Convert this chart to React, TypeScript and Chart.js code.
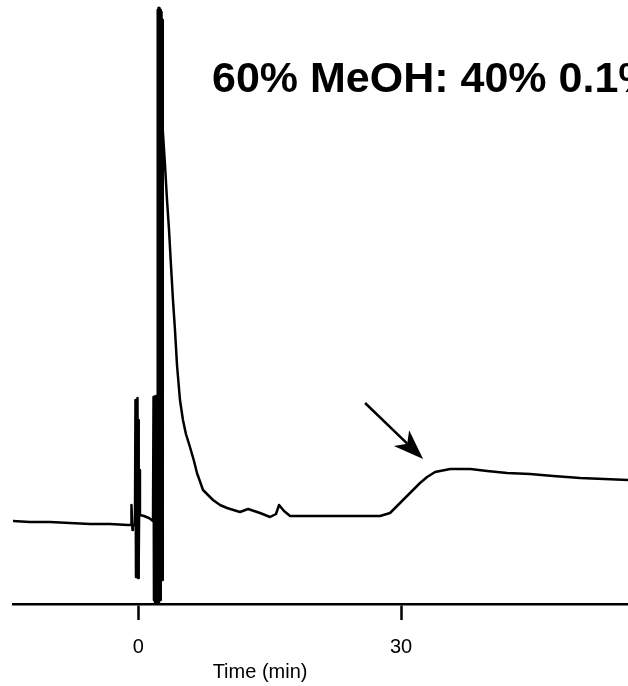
import React, { useEffect, useRef } from "react";
import { Chart, registerables } from "chart.js";

Chart.register(...registerables);

// Retention time (min) and detector signal (arbitrary units)
const timeMin = [
  -14.31, -12.37, -10.08, -7.8, -5.51, -3.23, -1.18, -0.83, -0.78, -0.66, -0.61, -0.38,
  -0.32, -0.26, -0.21, -0.15, -0.09, -0.03, 0.02, 0.08, 0.14, 0.19, 0.65, 1.22,
  1.68, 1.74, 1.79, 1.85, 1.91, 1.96, 2.02, 2.08, 2.14, 2.19, 2.25, 2.31, 2.36, 2.42,
  2.48, 2.54, 2.59, 2.65, 2.71, 2.77, 2.82,
  3.05, 3.28, 3.51, 3.73, 3.96, 4.19, 4.42, 4.76, 5.1, 5.44, 5.9, 6.36, 6.7, 7.39,
  8.53, 9.33, 10.13, 11.61, 12.53, 13.9, 15.04, 15.72, 16.07, 16.64, 17.33, 20.75, 24.17, 27.6,
  28.74, 29.88, 31.02, 32.16, 32.97, 33.88, 35.6, 37.91, 39.82, 42.1, 44.72, 47.36, 50.44,
  55.92,
];
const signal = [
  83, 82, 82, 81, 80, 80, 79, 79, 99, 74, 79, 79,
  204, 27, 199, 29, 206, 26, 184, 44, 134, 89, 88, 86,
  83, 207, 4, 207, 0, 208, 0, 204, 0, 594, 0, 596, 0, 596,
  4, 594, 14, 592, 24, 584, 474,
  439, 404, 374, 339, 304, 274, 239, 204, 184, 170, 157, 143, 131, 114,
  104, 99, 96, 92, 95, 91, 87, 90, 99, 93, 88, 88, 88, 88,
  91, 101, 111, 121, 127, 132, 135, 135, 133, 131, 130, 128, 126,
  124,
];
const xTickValues = [0, 30];
const xRange = [-14.3, 55.9];
const yRange = [0, 604];
const titleText = "60% MeOH: 40% 0.1% TFA";
const axisTitle = "Time (min)";
// arrow pointing at the broad peak: [time, signal] tail and tip
const arrowTail = [25.89, 201];
const arrowTip = [32.51, 145];

const overlayPlugin = {
  id: "overlay",
  afterDraw(chart: any) {
    const { ctx, scales } = chart;
    const xs = scales.x;
    const ys = scales.y;
    ctx.save();
    // title
    ctx.fillStyle = "#000";
    ctx.font = "bold 43px 'Liberation Sans', Arial, sans-serif";
    ctx.textBaseline = "alphabetic";
    ctx.textAlign = "left";
    ctx.fillText(titleText, 212, 92);
    // axis title
    ctx.font = "20px 'Liberation Sans', Arial, sans-serif";
    ctx.textAlign = "center";
    ctx.textBaseline = "middle";
    ctx.fillText(axisTitle, xs.getPixelForValue(13.9), 672);
    // arrow
    const x1 = xs.getPixelForValue(arrowTail[0]);
    const y1 = ys.getPixelForValue(arrowTail[1]);
    const x2 = xs.getPixelForValue(arrowTip[0]);
    const y2 = ys.getPixelForValue(arrowTip[1]);
    const dx = x2 - x1;
    const dy = y2 - y1;
    const len = Math.hypot(dx, dy);
    const ux = dx / len;
    const uy = dy / len;
    const px = -uy;
    const py = ux;
    const headLen = 30;
    const halfW = 11;
    const notch = 22;
    ctx.strokeStyle = "#000";
    ctx.lineWidth = 2.5;
    ctx.beginPath();
    ctx.moveTo(x1, y1);
    ctx.lineTo(x2 - ux * notch, y2 - uy * notch);
    ctx.stroke();
    ctx.beginPath();
    ctx.moveTo(x2, y2);
    ctx.lineTo(x2 - ux * headLen + px * halfW, y2 - uy * headLen + py * halfW);
    ctx.lineTo(x2 - ux * notch, y2 - uy * notch);
    ctx.lineTo(x2 - ux * headLen - px * halfW, y2 - uy * headLen - py * halfW);
    ctx.closePath();
    ctx.fill();
    ctx.restore();
  },
};

export default function App() {
  const canvasRef = useRef<HTMLCanvasElement | null>(null);

  useEffect(() => {
    const canvas = canvasRef.current;
    if (!canvas) return;
    const data = timeMin.map((t, i) => ({ x: t, y: signal[i] }));
    const chart = new Chart(canvas, {
      type: "line",
      data: {
        datasets: [
          {
            data,
            borderColor: "#000",
            borderWidth: 2.5,
            pointRadius: 0,
            tension: 0,
            fill: false,
            borderJoinStyle: "round",
          },
        ],
      },
      options: {
        animation: false,
        responsive: false,
        maintainAspectRatio: false,
        devicePixelRatio: 1,
        layout: { padding: { left: 13, right: 0, top: 0, bottom: 12 } },
        plugins: {
          legend: { display: false },
          tooltip: { enabled: false },
          title: { display: false },
        },
        scales: {
          x: {
            type: "linear",
            min: xRange[0],
            max: xRange[1],
            afterBuildTicks: (s: any) => {
              s.ticks = xTickValues.map((v) => ({ value: v }));
            },
            border: { display: true, color: "#000", width: 2.5 },
            grid: {
              display: true,
              drawOnChartArea: false,
              drawTicks: true,
              tickLength: 16,
              tickWidth: 2.5,
              tickColor: "#000",
              color: "#000",
            },
            ticks: {
              color: "#000",
              padding: 15,
              maxRotation: 0,
              autoSkip: false,
              font: { family: "'Liberation Sans', Arial, sans-serif", size: 20 },
            },
          },
          y: {
            type: "linear",
            display: false,
            min: yRange[0],
            max: yRange[1],
          },
        },
      },
      plugins: [overlayPlugin],
    });
    return () => chart.destroy();
  }, []);

  return (
    <div style={{ position: "absolute", left: 0, top: 0, width: 628, height: 686, background: "#fff" }}>
      <canvas ref={canvasRef} width={628} height={686} style={{ display: "block" }} />
    </div>
  );
}
